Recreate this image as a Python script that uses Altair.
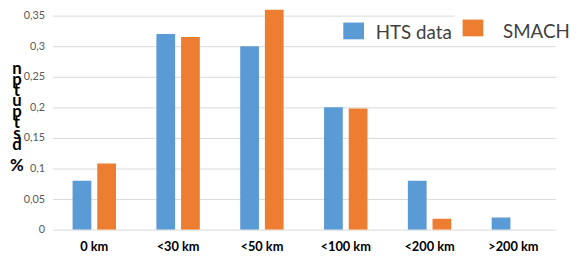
import altair as alt
import pandas as pd

categories = ["0 km", "<30 km", "<50 km", "<100 km", "<200 km", ">200 km"]
series = ["HTS data", "SMACH"]
hts_values = [0.08, 0.32, 0.30, 0.20, 0.08, 0.02]
smach_values = [0.108, 0.315, 0.363, 0.198, 0.018, 0.0]
y_ticks = [0, 0.05, 0.1, 0.15, 0.2, 0.25, 0.3, 0.35]
y_title_chars = ["n", "p", "t", "u", "p", "t", "s", "d"]
y_title_tail = "%"
colors = ["#5b9bd5", "#ed7d31"]

rows = []
for c, h, s in zip(categories, hts_values, smach_values):
    rows.append({"cat": c, "series": series[0], "value": h})
    rows.append({"cat": c, "series": series[1], "value": s})
df = pd.DataFrame(rows)

FONT = "Lato"

bars = alt.Chart(df).mark_bar(clip=True).encode(
    x=alt.X("cat:N", sort=categories,
            scale=alt.Scale(range=[0, 510], paddingInner=0.482, paddingOuter=0.241),
            axis=alt.Axis(title=None, labelAngle=0, labelFont=FONT, labelFontWeight="bold",
                          labelFontSize=13, labelColor="black", ticks=False, domain=False,
                          labelPadding=11)),
    xOffset=alt.XOffset("series:N", sort=series,
                        scale=alt.Scale(paddingInner=0.24, paddingOuter=0)),
    y=alt.Y("value:Q", scale=alt.Scale(domain=[0, 0.3597], nice=False),
            axis=alt.Axis(values=y_ticks, title=None,
                          labelExpr="replace(format(datum.value, '.2~f'), '.', ',')",
                          gridColor="#d9d9d9", domain=False, ticks=False, labelPadding=8,
                          labelColor="#595959", labelFontSize=11, labelFont=FONT)),
    color=alt.Color("series:N", scale=alt.Scale(domain=series, range=colors), legend=None),
)

legend_bg = alt.Chart(pd.DataFrame({"a": [1]})).mark_rect(color="white").encode(
    x=alt.value(408), x2=alt.value(531), y=alt.value(0), y2=alt.value(30))

legend_df = pd.DataFrame({
    "series": series,
    "sx": [295, 416], "sy": [13, 10],
    "tx": [328, 457], "ty": [30, 29],
})
leg_sq = alt.Chart(legend_df).mark_rect().encode(
    x=alt.X("sx:Q", scale=None), x2=alt.X2("sx2:Q"),
    y=alt.Y("sy:Q", scale=None), y2=alt.Y2("sy2:Q"),
    color=alt.Color("series:N", scale=alt.Scale(domain=series, range=colors), legend=None),
).transform_calculate(sx2="datum.sx + 21", sy2="datum.sy + 17")
leg_txt = alt.Chart(legend_df).mark_text(align="left", baseline="alphabetic", font=FONT,
                                         fontSize=19, color="#404040").encode(
    x=alt.X("tx:Q", scale=None), y=alt.Y("ty:Q", scale=None), text="series:N")

title = alt.Chart(pd.DataFrame({"t": ["\n".join(y_title_chars)]})).mark_text(
    font=FONT, fontSize=17, fontWeight="bold", color="black", lineBreak="\n",
    lineHeight=11, align="center", baseline="top").encode(
    x=alt.value(-36), y=alt.value(52), text="t:N")
title_tail = alt.Chart(pd.DataFrame({"t": [y_title_tail]})).mark_text(
    font=FONT, fontSize=17, fontWeight="bold", color="black",
    align="center", baseline="top").encode(
    x=alt.value(-36), y=alt.value(151), text="t:N")

chart = alt.layer(bars, legend_bg, leg_sq, leg_txt, title, title_tail).properties(
    width=531, height=223,
    autosize=alt.AutoSizeParams(type="none"),
    padding={"left": 45, "top": 0, "right": 0, "bottom": 26},
).configure_view(stroke=None)

chart.save("out.html", embed_options={"renderer": "svg", "actions": False})
